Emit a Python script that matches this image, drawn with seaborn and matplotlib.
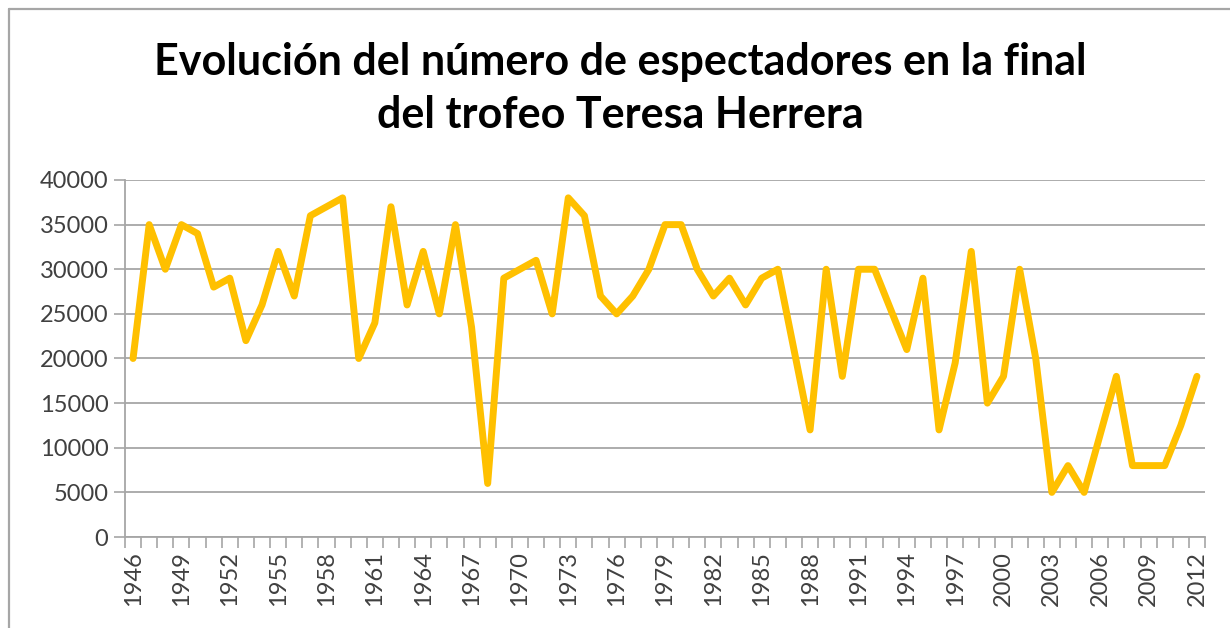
import numpy as np
import pandas as pd
import matplotlib
matplotlib.use("Agg")
import matplotlib.pyplot as plt
import seaborn as sns
from matplotlib.lines import Line2D

# Datos
years = list(range(1946, 2013))
espectadores = [
    20000, 35000, 30000, 35000, 34000, 28000, 29000, 22000, 26000, 32000,   # 1946-1955
    27000, 36000, 37000, 38000, 20000, 24000, 37000, 26000, 32000, 25000,   # 1956-1965
    35000, 23500, 6000, 29000, 30000, 31000, 25000, 38000, 36000, 27000,    # 1966-1975
    25000, 27000, 30000, 35000, 35000, 30000, 27000, 29000, 26000, 29000,   # 1976-1985
    30000, 21000, 12000, 30000, 18000, 30000, 30000, 25500, 21000, 29000,   # 1986-1995
    12000, 19500, 32000, 15000, 18000, 30000, 20000, 5000, 8000, 5000,      # 1996-2005
    11500, 18000, 8000, 8000, 8000, 12500, 18000,                           # 2006-2012
]
title_lines = ["Evolución del número de espectadores en la final",
               "del trofeo Teresa Herrera"]
y_ticks = list(range(0, 40001, 5000))

df = pd.DataFrame({"year": years, "espectadores": espectadores})

sns.set_theme(style="white")
plt.rcParams["font.family"] = ["Lato", "DejaVu Sans"]

W, H = 1230, 628
fig = plt.figure(figsize=(W / 100, H / 100), dpi=100)
ax = fig.add_axes([125 / W, 1 - 537 / H, (1205 - 125) / W, (537 - 180) / H])

sns.lineplot(data=df, x="year", y="espectadores", ax=ax,
             color="#FFC000", linewidth=5, solid_joinstyle="round",
             solid_capstyle="round")

grid_col = "#a6a6a6"
text_col = "#404040"

ax.set_xlim(years[0] - 0.5, years[-1] + 0.5)
ax.set_ylim(0, 40000)
ax.set_yticks(y_ticks)
ax.set_yticklabels([str(v) for v in y_ticks], fontsize=17, color=text_col)
ax.yaxis.grid(True, color=grid_col, linewidth=1.3)
ax.set_axisbelow(True)

ax.set_xticks(years[::3])
ax.set_xticklabels([str(y) for y in years[::3]], rotation=90,
                   fontsize=17, color=text_col)
ax.set_xticks(np.arange(years[0] - 0.5, years[-1] + 1, 1), minor=True)
ax.tick_params(axis="x", which="major", length=0, pad=10)
ax.tick_params(axis="x", which="minor", length=8, width=1.2,
               color=grid_col, direction="out", bottom=True)
ax.tick_params(axis="y", length=8, width=1.2, color=grid_col,
               direction="out", left=True, pad=4)

ax.set_xlabel("")
ax.set_ylabel("")
for side in ["top", "right"]:
    ax.spines[side].set_visible(False)
for side in ["left", "bottom"]:
    ax.spines[side].set_color(grid_col)
    ax.spines[side].set_linewidth(1.3)

# Título en dos líneas
fig.text(620 / W, 1 - 62 / H, title_lines[0], ha="center", va="center",
         fontsize=31, fontweight="bold", color="black")
fig.text(620 / W, 1 - 115 / H, title_lines[1], ha="center", va="center",
         fontsize=31, fontweight="bold", color="black")

# Marco del gráfico (solo arriba e izquierda visibles)
fig.add_artist(Line2D([9 / W, 1], [1 - 9 / H, 1 - 9 / H], color="#a6a6a6",
                      linewidth=1.6, transform=fig.transFigure))
fig.add_artist(Line2D([9 / W, 9 / W], [0, 1 - 9 / H], color="#a6a6a6",
                      linewidth=1.6, transform=fig.transFigure))

fig.savefig("out.png", dpi=100, facecolor="white")
plt.close(fig)
